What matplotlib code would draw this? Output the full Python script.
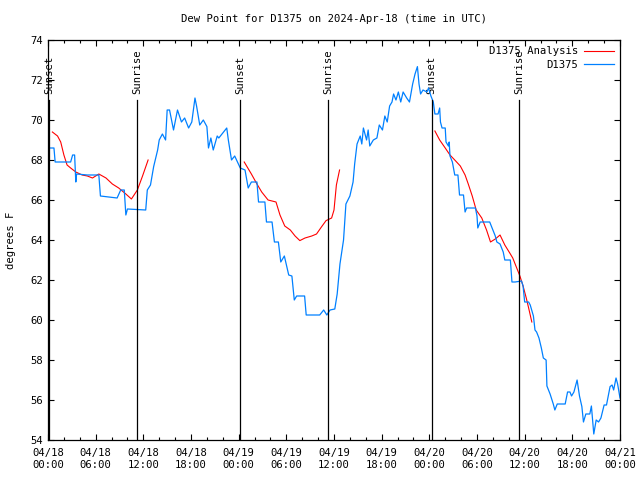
import numpy as np
import pandas as pd
import matplotlib
matplotlib.use('Agg')
import matplotlib.pyplot as plt
import matplotlib.dates as mdates

# hours since 2024-04-18 00:00 UTC
obs_hours = [0, 0.75, 0.9, 2.85, 3.1, 3.35, 3.5, 3.6, 4.95, 6.4, 6.6, 8.7, 9.15, 9.6, 9.8, 10.0,
             12.3, 12.5, 12.9, 13.3, 13.8, 14.0, 14.4, 14.8, 15.0, 15.3, 15.8, 16.3, 16.8, 17.2,
             17.7, 18.1, 18.5, 18.7, 19.1, 19.55, 20.0, 20.2, 20.5, 20.8, 21.3, 21.5, 22.1, 22.5,
             22.7, 23.1, 23.5, 23.96, 24.2, 24.8, 25.2, 25.6, 26.3, 26.5, 27.3, 27.5, 28.2, 28.5,
             29.0, 29.3, 29.75, 30.3, 30.7, 31.0, 31.3, 32.3, 32.5, 34.2, 34.7, 35.1, 35.5, 36.1,
             36.4, 36.75, 37.2, 37.5, 38.0, 38.4, 38.6, 38.9, 39.3, 39.5, 39.7, 40.1, 40.3, 40.5,
             40.95, 41.4, 41.7, 42.1, 42.4, 42.7, 43.0, 43.3, 43.5, 43.8, 44.1, 44.4, 44.7, 45.15,
             45.5, 45.9, 46.2, 46.5, 46.7, 46.9, 47.2, 47.7, 47.9, 48.2, 48.5, 48.7, 49.1, 49.3,
             49.4, 49.6, 50.0, 50.1, 50.4, 50.5, 50.6, 50.9, 51.2, 51.6, 51.8, 52.3, 52.5, 52.7,
             53.8, 54.0, 54.1, 54.4, 55.6, 55.8, 56.3, 56.5, 56.9, 57.3, 57.5, 58.2, 58.4, 58.8,
             59.6, 59.8, 60.0, 60.5, 60.7, 61.1, 61.3, 61.5, 61.8, 62.1, 62.35, 62.7, 62.8, 63.2,
             63.6, 63.8, 64.1, 65.1, 65.4, 65.7, 65.9, 66.2, 66.6, 66.9, 67.2, 67.4, 67.7, 68.2,
             68.4, 68.7, 69.0, 69.3, 69.6, 70.0, 70.3, 70.75, 71.0, 71.2, 71.5, 71.7, 72.0]
obs_dewpt = [68.6, 68.6, 67.9, 67.9, 68.25, 68.25, 66.9, 67.3, 67.25, 67.25, 66.2, 66.1, 66.5, 66.5, 65.25, 65.55,
             65.5, 66.5, 66.75, 67.67, 68.5, 69.0, 69.3, 69.0, 70.5, 70.5, 69.5, 70.5, 69.9, 70.1,
             69.6, 69.9, 71.1, 70.7, 69.75, 70.0, 69.67, 68.6, 69.1, 68.5, 69.2, 69.1, 69.4, 69.6,
             69.0, 68.0, 68.2, 67.8, 67.6, 67.5, 66.6, 66.9, 66.9, 65.9, 65.9, 64.9, 64.9, 63.9,
             63.9, 62.9, 63.2, 62.25, 62.2, 61.0, 61.2, 61.2, 60.25, 60.25, 60.5, 60.25, 60.5, 60.55,
             61.3, 62.8, 64.0, 65.8, 66.2, 66.9, 67.8, 68.8, 69.2, 68.8, 69.6, 69.0, 69.5, 68.7,
             69.0, 69.1, 69.75, 69.5, 70.2, 69.9, 70.7, 70.9, 71.3, 71.0, 71.4, 70.9, 71.4, 71.1,
             70.9, 71.8, 72.3, 72.67, 71.8, 71.3, 71.5, 71.4, 71.6, 71.2, 70.9, 70.3, 70.3, 70.6,
             69.9, 69.6, 69.6, 68.9, 68.7, 68.9, 68.2, 67.9, 67.25, 67.25, 66.25, 66.25, 65.4, 65.6,
             65.6, 65.2, 64.6, 64.9, 64.9, 64.7, 64.2, 63.9, 63.8, 63.4, 63.0, 63.0, 61.9, 61.9,
             61.95, 61.7, 60.9, 60.9, 60.75, 60.2, 59.5, 59.4, 59.1, 58.6, 58.1, 58.0, 56.7, 56.3,
             55.8, 55.5, 55.8, 55.8, 56.4, 56.4, 56.2, 56.4, 57.0, 56.2, 55.67, 54.9, 55.3, 55.3,
             55.7, 54.3, 55.0, 54.9, 55.1, 55.75, 55.75, 56.67, 56.75, 56.5, 57.1, 56.8, 56.1]

# analysis, three pieces separated by gaps (nan)
anl_hours = [0.55, 1.2, 1.6, 2.0, 2.4, 2.85, 3.5, 4.3, 4.95, 5.6, 6.4, 7.3, 8.1, 8.9, 9.8, 10.5, 11.25, 11.9, 12.6,
             np.nan,
             24.7, 25.6, 26.3, 26.9, 27.7, 28.7, 29.2, 29.8, 30.5, 31.1, 31.7, 32.35, 33.2, 33.8, 34.45, 35.0,
             35.7, 36.0, 36.3, 36.7,
             np.nan,
             48.7, 49.3, 50.0, 50.6, 51.2, 51.9, 52.5, 52.9, 53.4, 53.9, 54.6, 55.2, 55.7, 56.3, 56.9, 57.5,
             58.2, 58.5, 59.0, 59.4, 59.8, 60.2, 60.5, 60.9]
anl_dewpt = [69.4, 69.2, 68.9, 68.25, 67.75, 67.6, 67.4, 67.25, 67.2, 67.1, 67.3, 67.1, 66.8, 66.6, 66.3, 66.05, 66.5, 67.2, 68.0,
             np.nan,
             67.9, 67.3, 66.8, 66.4, 66.0, 65.9, 65.25, 64.7, 64.5, 64.2, 63.97, 64.1, 64.2, 64.3, 64.67, 64.97,
             65.1, 65.5, 66.75, 67.5,
             np.nan,
             69.45, 69.0, 68.6, 68.25, 68.0, 67.7, 67.25, 66.8, 66.2, 65.5, 65.1, 64.5, 63.9, 64.05, 64.25, 63.75,
             63.3, 63.1, 62.6, 62.2, 61.7, 61.1, 60.6, 59.9]

sun_hours = [0.1, 11.24, 24.17, 35.3, 48.3, 59.3]
sun_labels = ['Sunset', 'Sunrise', 'Sunset', 'Sunrise', 'Sunset', 'Sunrise']

t0 = pd.Timestamp('2024-04-18 00:00')
def to_time(h):
    return t0 + pd.to_timedelta(np.array(h, dtype=float), unit='h')

plt.rcParams['font.family'] = 'DejaVu Sans Mono'
fs = 7.6

fig = plt.figure(figsize=(6.4, 4.8), dpi=100)
ax = fig.add_axes([48/640, 40/480, 572/640, 400/480])

ax.plot(to_time(anl_hours), anl_dewpt, color='#ff0000', lw=0.8, label='D1375 Analysis')
ax.plot(to_time(obs_hours), obs_dewpt, color='#0080ff', lw=0.9, label='D1375')

for h, lab in zip(sun_hours, sun_labels):
    x = to_time([h])[0]
    ax.axvline(x, ymin=0, ymax=0.85, color='black', lw=0.9)
    ax.text(x, 0.865, lab, transform=ax.get_xaxis_transform(), rotation=90,
            ha='center', va='bottom', fontsize=fs, zorder=1)

ax.set_xlim(t0, t0 + pd.Timedelta(hours=72))
ax.set_ylim(54, 74)
ax.set_yticks(np.arange(54, 75, 2))
ax.xaxis.set_major_locator(mdates.HourLocator(byhour=range(0, 24, 6)))
ax.xaxis.set_minor_locator(mdates.HourLocator(interval=2))
ax.xaxis.set_major_formatter(mdates.DateFormatter('%m/%d\n%H:%M'))

ax.tick_params(which='both', direction='in', top=True, right=True, labelsize=fs, width=0.8)
ax.tick_params(which='major', length=4.5)
ax.tick_params(which='minor', length=2.5)
ax.tick_params(axis='x', pad=6)
for s in ax.spines.values():
    s.set_linewidth(0.9)

ax.set_ylabel('degrees F', fontsize=fs, labelpad=10)
ax.set_title('Dew Point for D1375 on 2024-Apr-18 (time in UTC)', fontsize=fs, pad=13)

ax.legend(loc='upper right', frameon=False, markerfirst=False, fontsize=fs,
          handlelength=2.8, borderaxespad=0.5, borderpad=0.1, labelspacing=0.35, handletextpad=0.6)

fig.savefig('out.png', dpi=100)
